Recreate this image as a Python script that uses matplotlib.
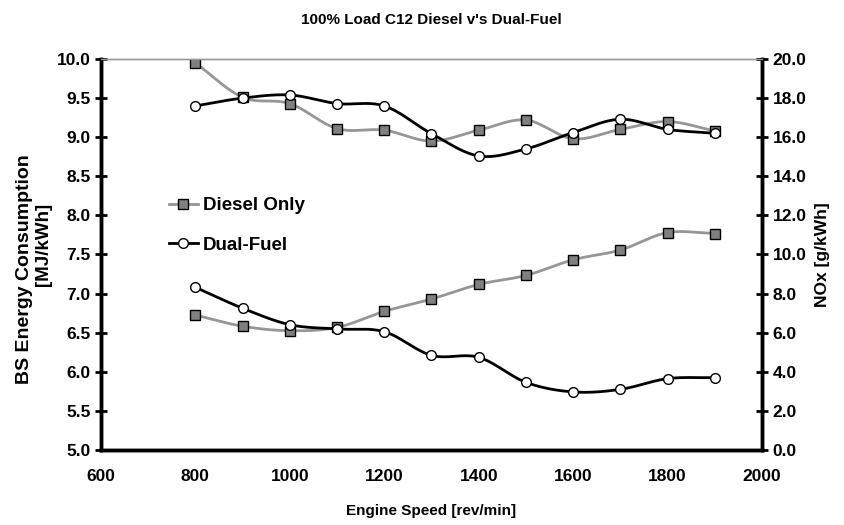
import numpy as np
import matplotlib
matplotlib.use("Agg")
import matplotlib.pyplot as plt

speed = [800, 900, 1000, 1100, 1200, 1300, 1400, 1500, 1600, 1700, 1800, 1900]
bsec_diesel = [9.95, 9.51, 9.43, 9.11, 9.09, 8.95, 9.09, 9.22, 8.98, 9.10, 9.20, 9.08]
bsec_dual = [9.40, 9.50, 9.54, 9.43, 9.40, 9.045, 8.76, 8.85, 9.06, 9.23, 9.10, 9.05]
nox_diesel = [6.9, 6.33, 6.10, 6.27, 7.09, 7.72, 8.47, 8.93, 9.73, 10.23, 11.12, 11.07]
nox_dual = [8.32, 7.25, 6.41, 6.19, 6.05, 4.84, 4.74, 3.46, 2.97, 3.10, 3.65, 3.70]

plt.rcParams['font.family'] = ['Liberation Sans', 'DejaVu Sans']
plt.rcParams['font.weight'] = 'bold'


def smooth(x, y, n=20):
    x = np.asarray(x, float)
    y = np.asarray(y, float)
    px = np.concatenate([[2 * x[0] - x[1]], x, [2 * x[-1] - x[-2]]])
    py = np.concatenate([[2 * y[0] - y[1]], y, [2 * y[-1] - y[-2]]])
    xs, ys = [], []
    t = np.linspace(0, 1, n, endpoint=False)
    for i in range(1, len(px) - 2):
        for arr, out in ((px, xs), (py, ys)):
            p0, p1, p2, p3 = arr[i - 1], arr[i], arr[i + 1], arr[i + 2]
            out.extend(0.5 * ((2 * p1) + (-p0 + p2) * t
                              + (2 * p0 - 5 * p1 + 4 * p2 - p3) * t ** 2
                              + (-p0 + 3 * p1 - 3 * p2 + p3) * t ** 3))
    xs.append(x[-1])
    ys.append(y[-1])
    return np.array(xs), np.array(ys)


fig = plt.figure(figsize=(8.45, 5.25), dpi=100)
ax = fig.add_axes([0.1195, 0.1429, 0.7823, 0.7447])
ax2 = ax.twinx()

grey = '#969696'
ms_d = dict(marker='s', markersize=6.5, markerfacecolor='#808080', markeredgecolor='black',
            markeredgewidth=1.0, linestyle='none')
ms_f = dict(marker='o', markersize=7, markerfacecolor='white', markeredgecolor='black',
            markeredgewidth=1.0, linestyle='none')

sx, sy = smooth(speed, bsec_diesel)
ax.plot(sx, sy, color=grey, lw=2, zorder=2)
ax.plot(speed, bsec_diesel, zorder=3, **ms_d)
sx, sy = smooth(speed, bsec_dual)
ax.plot(sx, sy, color='black', lw=2, zorder=2)
ax.plot(speed, bsec_dual, zorder=3, **ms_f)

sx, sy = smooth(speed, nox_diesel)
ax2.plot(sx, sy, color=grey, lw=2, zorder=2)
ax2.plot(speed, nox_diesel, zorder=3, **ms_d)
sx, sy = smooth(speed, nox_dual)
ax2.plot(sx, sy, color='black', lw=2, zorder=2)
ax2.plot(speed, nox_dual, zorder=3, **ms_f)

ax.set_xlim(600, 2000)
ax.set_ylim(5.0, 10.0)
ax2.set_ylim(0.0, 20.0)
ax.set_xticks(np.arange(600, 2001, 200))
ax.set_yticks(np.arange(5.0, 10.01, 0.5))
ax2.set_yticks(np.arange(0, 20.01, 2))
ax.set_yticklabels([f"{v:.1f}" for v in np.arange(5.0, 10.01, 0.5)])
ax2.set_yticklabels([f"{v:.1f}" for v in np.arange(0, 20.01, 2)])

for a in (ax, ax2):
    a.spines['top'].set_color('#999999')
    a.spines['top'].set_linewidth(1)
    for s in ('left', 'right', 'bottom'):
        a.spines[s].set_linewidth(2.5)
        a.spines[s].set_color('black')
    a.tick_params(axis='y', direction='inout', length=9, width=2, labelsize=12.5, pad=3)
ax.tick_params(axis='x', length=0, labelsize=12.5, pad=14)

ax.set_xlabel('Engine Speed [rev/min]', fontsize=11, fontweight='bold', labelpad=14)
fig.text(0.029, 0.488, 'BS Energy Consumption', rotation=90, ha='center', va='center',
         fontsize=14, fontweight='bold')
fig.text(0.0515, 0.535, '[MJ/kWh]', rotation=90, ha='center', va='center',
         fontsize=13.5, fontweight='bold')
ax2.set_ylabel('NOx [g/kWh]', fontsize=12.5, fontweight='bold', labelpad=6)
ax.set_title("100% Load C12 Diesel v's Dual-Fuel", fontsize=11, fontweight='bold', pad=25)

h1 = plt.Line2D([], [], color=grey, lw=2, marker='s', markersize=6.5,
                markerfacecolor='#808080', markeredgecolor='black')
h2 = plt.Line2D([], [], color='black', lw=2, marker='o', markersize=7,
                markerfacecolor='white', markeredgecolor='black')
leg = ax.legend([h1, h2], ['Diesel Only', 'Dual-Fuel'], loc='upper left',
                bbox_to_anchor=(0.078, 0.69), frameon=False,
                handlelength=1.5, handletextpad=0.3, labelspacing=1.2,
                prop={'weight': 'bold', 'size': 13.5})

fig.savefig('out.png', dpi=100)
